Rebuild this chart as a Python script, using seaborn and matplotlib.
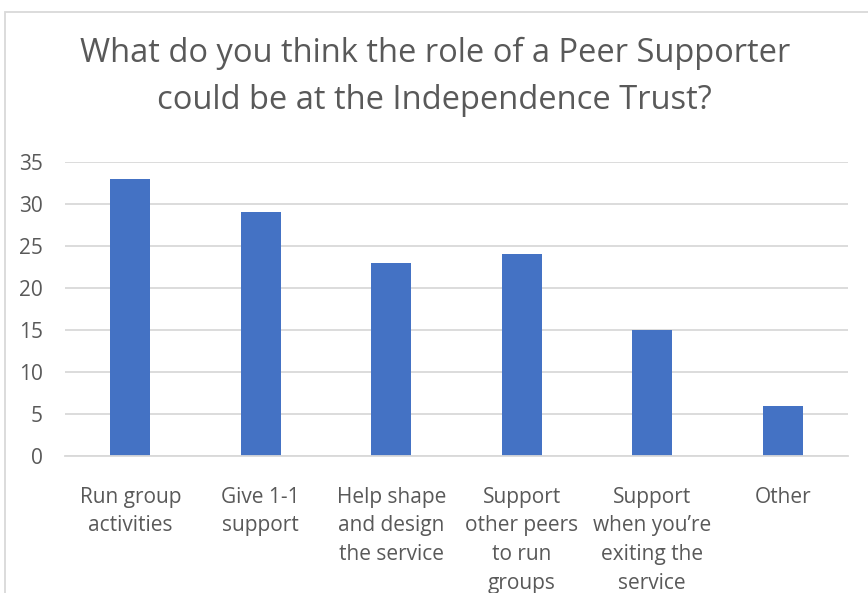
import matplotlib
matplotlib.use("Agg")
import matplotlib.pyplot as plt
import seaborn as sns
import pandas as pd
from matplotlib.patches import Rectangle

categories = ["Run group\nactivities", "Give 1-1\nsupport", "Help shape\nand design\nthe service",
              "Support\nother peers\nto run\ngroups", "Support\nwhen you\u2019re\nexiting the\nservice", "Other"]
values = [33, 29, 23, 24, 15, 6]
yticks = [0, 5, 10, 15, 20, 25, 30, 35]
title = "What do you think the role of a Peer Supporter\ncould be at the Independence Trust?"

sns.set_theme(style="white")
plt.rcParams['font.family'] = ['Open Sans', 'DejaVu Sans']
TXT = "#595959"
GRID = "#D9D9D9"

W, H = 868, 593
fig = plt.figure(figsize=(W / 100, H / 100), dpi=100)
ax = fig.add_axes([65 / W, 1 - 456 / H, (848 - 65) / W, (456 - 162) / H])

df = pd.DataFrame({"cat": categories, "val": values})
sns.barplot(data=df, x="cat", y="val", color="#4472C4", width=0.31, ax=ax, saturation=1,
            linewidth=0)

ax.set_ylim(0, 35)
ax.set_yticks(yticks)
ax.set_yticklabels([str(v) for v in yticks])
ax.grid(axis="y", color=GRID, linewidth=1.3)
ax.set_axisbelow(True)
for s in ["top", "right", "left"]:
    ax.spines[s].set_visible(False)
ax.spines["bottom"].set_color(GRID)
ax.spines["bottom"].set_linewidth(1.3)
ax.set_xlabel("")
ax.set_ylabel("")
ax.tick_params(axis="both", length=0, labelsize=15, labelcolor=TXT)
ax.tick_params(axis="y", pad=16)
ax.tick_params(axis="x", pad=22)
for lab in ax.get_xticklabels():
    lab.set_linespacing(1.48)

fig.text(0.5 * (5 + W) / W - 0.002, 1 - 37 / H, title, ha="center", va="top",
         fontsize=23.5, color=TXT, linespacing=1.55)

fig.patches.append(Rectangle((5 / W, -0.1), 1.2, (H - 12) / H + 0.1, transform=fig.transFigure,
                             fill=False, edgecolor=GRID, linewidth=1.3))

fig.savefig("out.png", dpi=100)
